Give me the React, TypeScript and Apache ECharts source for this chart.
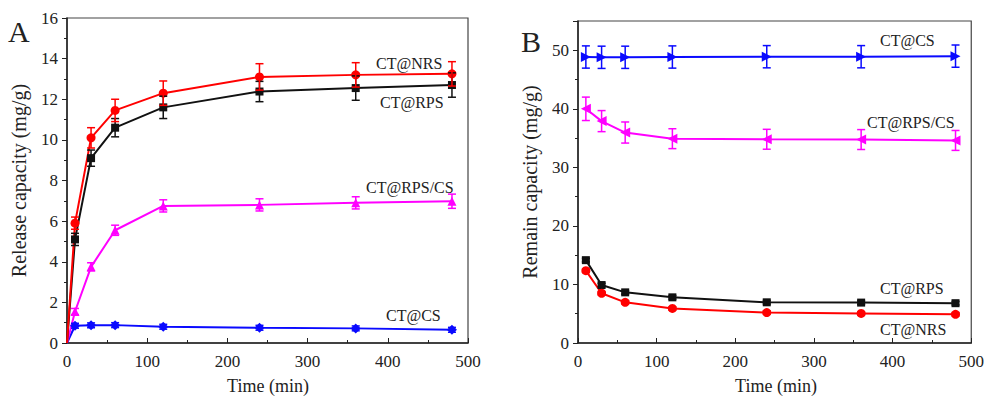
import React, { useEffect, useRef } from "react";
import * as echarts from "echarts";

// ---------- Data ----------
const timeA = [0, 10, 30, 60, 120, 240, 360, 480];
const nrsA = [0, 5.9, 10.1, 11.45, 12.3, 13.1, 13.2, 13.25];
const nrsErrA = [0, 0.3, 0.5, 0.55, 0.6, 0.65, 0.6, 0.6];
const rpsA = [0, 5.1, 9.1, 10.6, 11.6, 12.38, 12.55, 12.7];
const rpsErrA = [0, 0.3, 0.4, 0.45, 0.55, 0.5, 0.6, 0.6];
const rpscsA = [0, 1.55, 3.75, 5.55, 6.75, 6.8, 6.9, 6.98];
const rpscsErrA = [0, 0.15, 0.2, 0.25, 0.3, 0.3, 0.3, 0.35];
const csA = [0, 0.85, 0.87, 0.88, 0.8, 0.75, 0.72, 0.65];
const csErrA = [0, 0.12, 0.12, 0.12, 0.12, 0.12, 0.12, 0.12];

const timeB = [10, 30, 60, 120, 240, 360, 480];
const csB = [48.85, 48.8, 48.8, 48.85, 48.9, 48.9, 49.0];
const csErrB = [1.9, 1.9, 1.9, 1.9, 1.9, 1.9, 1.9];
const rpscsB = [40.0, 37.9, 35.95, 34.9, 34.8, 34.75, 34.6];
const rpscsErrB = [2.0, 1.8, 1.8, 1.7, 1.7, 1.7, 1.7];
const rpsB = [14.15, 9.9, 8.65, 7.8, 6.95, 6.9, 6.8];
const rpsErrB = [0.3, 0.3, 0.3, 0.3, 0.3, 0.3, 0.3];
const nrsB = [12.35, 8.5, 6.95, 5.9, 5.2, 5.05, 4.9];
const nrsErrB = [0.3, 0.3, 0.3, 0.3, 0.3, 0.3, 0.3];

const xTicks = [0, 100, 200, 300, 400, 500];
const yTicksA = [0, 2, 4, 6, 8, 10, 12, 14, 16];
const yTicksB = [0, 10, 20, 30, 40, 50];

const RED = "#ff0000";
const BLACK = "#111111";
const MAGENTA = "#ff00ff";
const BLUE = "#0a0aff";
const FONT = "Liberation Serif";

function pairs(t: number[], v: number[]) {
  return t.map((x, i) => [x, v[i]]);
}
function errs(t: number[], v: number[], e: number[]) {
  return t.map((x, i) => [x, v[i] - e[i], v[i] + e[i]]).filter((d, i) => e[i] > 0);
}

function lineSeries(name: string, t: number[], v: number[], color: string, symbol: string, idx: number, rotate = 0, size = 9) {
  return {
    type: "line",
    name,
    data: pairs(t, v),
    xAxisIndex: idx,
    yAxisIndex: idx,
    symbol: (val: number[]) => (val[0] === 0 ? "none" : symbol),
    symbolSize: size,
    symbolRotate: rotate,
    showAllSymbol: true,
    lineStyle: { color, width: 2 },
    itemStyle: { color },
    z: 3,
  };
}

function errSeries(t: number[], v: number[], e: number[], color: string, idx: number) {
  return {
    type: "custom",
    xAxisIndex: idx,
    yAxisIndex: idx,
    data: errs(t, v, e),
    encode: { x: 0, y: [1, 2] },
    z: 4,
    renderItem: (params: any, api: any) => {
      const x = api.value(0);
      const lo = api.coord([x, api.value(1)]);
      const hi = api.coord([x, api.value(2)]);
      const cap = 4;
      const style = { stroke: color, lineWidth: 1.5 };
      return {
        type: "group",
        children: [
          { type: "line", shape: { x1: hi[0], y1: hi[1], x2: lo[0], y2: lo[1] }, style },
          { type: "line", shape: { x1: hi[0] - cap, y1: hi[1], x2: hi[0] + cap, y2: hi[1] }, style },
          { type: "line", shape: { x1: lo[0] - cap, y1: lo[1], x2: lo[0] + cap, y2: lo[1] }, style },
        ],
      };
    },
  };
}

function xAxis(idx: number) {
  return {
    type: "value",
    gridIndex: idx,
    min: 0,
    max: 500,
    interval: 100,
    axisLine: { show: true, lineStyle: { color: "#222", width: 1.5 } },
    axisTick: { show: true, inside: true, length: 5, lineStyle: { color: "#222" } },
    minorTick: { show: true, splitNumber: 2, length: 3, lineStyle: { color: "#222" } },
    splitLine: { show: false },
    axisLabel: { fontFamily: FONT, fontSize: 17, color: "#222", margin: 10 },
  };
}

function yAxis(idx: number, max: number, interval: number, name: string, gap: number, showMax: boolean) {
  return {
    type: "value",
    gridIndex: idx,
    min: 0,
    max,
    interval,
    name,
    nameLocation: "middle",
    nameGap: gap,
    nameTextStyle: { fontFamily: FONT, fontSize: 20, color: "#222", fontWeight: 400 },
    axisLine: { show: true, lineStyle: { color: "#222", width: 1.5 } },
    axisTick: { show: true, inside: false, length: 5, lineStyle: { color: "#222" } },
    minorTick: { show: true, splitNumber: 2, length: 3, lineStyle: { color: "#222" } },
    splitLine: { show: false },
    axisLabel: { fontFamily: FONT, fontSize: 17, color: "#222", margin: 9, showMaxLabel: showMax },
  };
}

function label(text: string, x: number, y: number, size = 16, align = "left") {
  return {
    type: "text",
    x,
    y,
    style: { text, fontFamily: FONT, fontSize: size, fontWeight: "normal", fill: "#222", textAlign: align, textVerticalAlign: "middle" },
    z: 10,
  };
}

export default function App() {
  const ref = useRef<HTMLDivElement>(null);
  useEffect(() => {
    document.body.style.margin = "0";
    if (!ref.current) return;
    const chart = echarts.init(ref.current, undefined, { renderer: "svg" });
    const option: any = {
      animation: false,
      backgroundColor: "#ffffff",
      textStyle: { fontFamily: FONT, fontWeight: "normal" },
      grid: [
        { left: 67, top: 18, width: 401, height: 325, show: true, borderColor: "#444", borderWidth: 1.2, backgroundColor: "transparent" },
        { left: 578, top: 21, width: 396, height: 322, show: true, borderColor: "#444", borderWidth: 1.2, backgroundColor: "transparent" },
      ],
      xAxis: [xAxis(0), xAxis(1)],
      yAxis: [
        yAxis(0, 16, 2, "Release capacity (mg/g)", 38, true),
        yAxis(1, 55, 10, "Remain capacity (mg/g)", 38, false),
      ],
      series: [
        lineSeries("CT@CS", timeA, csA, BLUE, "diamond", 0, 0, 10),
        errSeries(timeA, csA, csErrA, BLUE, 0),
        lineSeries("CT@RPS/CS", timeA, rpscsA, MAGENTA, "triangle", 0, 0, 9),
        errSeries(timeA, rpscsA, rpscsErrA, MAGENTA, 0),
        lineSeries("CT@RPS", timeA, rpsA, BLACK, "rect", 0, 0, 8),
        errSeries(timeA, rpsA, rpsErrA, BLACK, 0),
        lineSeries("CT@NRS", timeA, nrsA, RED, "circle", 0, 0, 9),
        errSeries(timeA, nrsA, nrsErrA, RED, 0),

        lineSeries("CT@CS", timeB, csB, BLUE, "triangle", 1, -90, 10),
        errSeries(timeB, csB, csErrB, BLUE, 1),
        lineSeries("CT@RPS/CS", timeB, rpscsB, MAGENTA, "triangle", 1, 90, 10),
        errSeries(timeB, rpscsB, rpscsErrB, MAGENTA, 1),
        lineSeries("CT@RPS", timeB, rpsB, BLACK, "rect", 1, 0, 8),
        errSeries(timeB, rpsB, rpsErrB, BLACK, 1),
        lineSeries("CT@NRS", timeB, nrsB, RED, "circle", 1, 0, 9),
        errSeries(timeB, nrsB, nrsErrB, RED, 1),
      ],
      graphic: [
        label("A", 8, 31, 30),
        label("B", 521, 41, 30),
        label("Time (min)", 268, 386, 18, "center"),
        label("Time (min)", 776, 386, 18, "center"),
        label("CT@NRS", 376, 63),
        label("CT@RPS", 380, 102),
        label("CT@RPS/CS", 366, 187),
        label("CT@CS", 386, 315),
        label("CT@CS", 880, 40),
        label("CT@RPS/CS", 867, 122),
        label("CT@RPS", 880, 288),
        label("CT@NRS", 880, 329),
      ],
    };
    chart.setOption(option);
    return () => chart.dispose();
  }, []);
  return <div ref={ref} style={{ width: 987, height: 403 }} />;
}
